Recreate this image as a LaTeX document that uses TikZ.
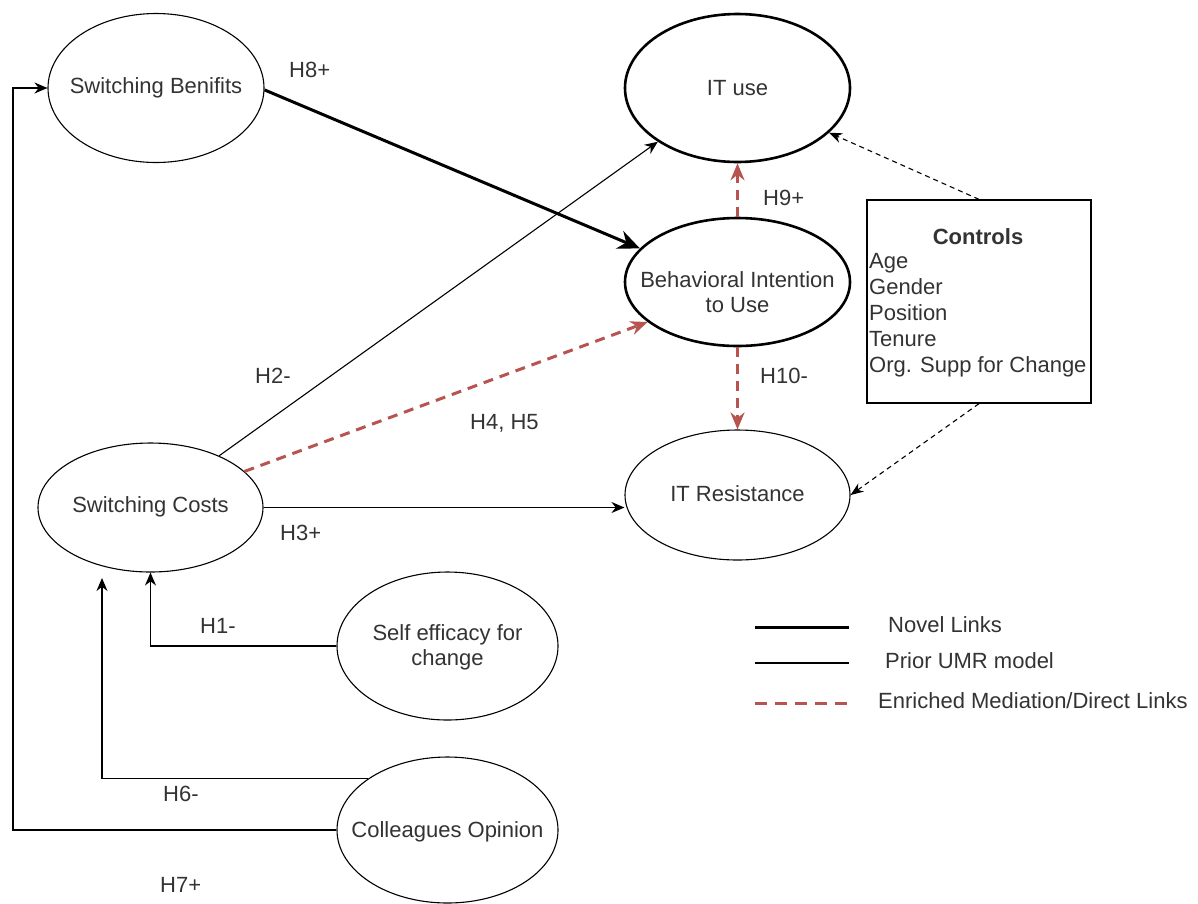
\documentclass[tikz,border=0pt]{standalone}
\usepackage{fontspec}
\setmainfont{Liberation Sans}
\usetikzlibrary{shapes.geometric,arrows.meta}
\definecolor{txt}{RGB}{51,51,51}
\definecolor{redd}{RGB}{184,84,80}
\begin{document}
\begin{tikzpicture}[x=1pt,y=-1pt,
  font=\fontsize{22}{25}\selectfont, text=txt,
  thinE/.style={ellipse, draw=black, line width=1.1pt, inner sep=0pt},
  thickE/.style={ellipse, draw=black, line width=2.6pt, inner sep=0pt},
  lbl/.style={anchor=west, inner sep=0pt, text height=15pt, text depth=4pt},
  prior/.style={line width=1.1pt, -{Stealth[length=13pt,width=11pt]}},
  novel/.style={line width=3pt, -{Stealth[length=22pt,width=19pt]}},
  enr/.style={draw=redd, line width=3pt, dash pattern=on 10pt off 7pt, -{Stealth[length=17pt,width=14pt]}},
  ctrl/.style={line width=1.1pt, dash pattern=on 5pt off 4pt, -{Stealth[length=13pt,width=10pt]}},
]
\useasboundingbox (0,0) rectangle (1198,903);
\fill[white] (0,0) rectangle (1198,903);

% ellipses
\node[thinE, minimum width=216pt, minimum height=149pt] (sb) at (156,88) {};
\node[thickE, minimum width=225pt, minimum height=148pt] (itu) at (737.5,88) {};
\node[thickE, minimum width=225pt, minimum height=128pt] (bi) at (737.5,282) {};
\node[thinE, minimum width=225pt, minimum height=130pt] (itr) at (737.5,495) {};
\node[thinE, minimum width=225pt, minimum height=129pt] (sc) at (150.5,507.5) {};
\node[thinE, minimum width=221pt, minimum height=148pt] (se) at (447.5,646) {};
\node[thinE, minimum width=221pt, minimum height=146pt] (co) at (447.5,830) {};
\node[draw=black, line width=1.3pt, minimum width=224pt, minimum height=203pt, inner sep=0pt] (ctl) at (979,301.5) {};

% texts
\node (sbt) at (156,88) {Switching Benifits};
\node (itut) at (737.5,88) {IT use};
\node[align=center] (bit) at (737.5,292) {Behavioral Intention\\to Use};
\node (itrt) at (737.5,494) {IT Resistance};
\node (sct) at (150.5,507) {Switching Costs};
\node[align=center] (set) at (447.5,647) {Self efficacy for\\change};
\node (cot) at (447.5,832) {Colleagues Opinion};

\node[font=\fontsize{22}{25}\selectfont\bfseries] (ctlh) at (978,237) {Controls};
\node[lbl] (c1) at (869,263) {Age};
\node[lbl] (c2) at (869,289) {Gender};
\node[lbl] (c3) at (869,315) {Position};
\node[lbl] (c4) at (869,341) {Tenure};
\node[lbl] (c5) at (869,367) {Org. Supp for Change};

% connectors
\draw[novel] (sb.-1) -- (bi.161);
\draw[prior] (sc.37) -- (itu.214);
\draw[enr] (sc.21) -- (bi.204);
\draw[prior] (sc.east) -- (sc.east -| itr.west);
\draw[enr] (bi.north) -- (itu.south);
\draw[enr] (bi.south) -- (itr.north);
\draw[ctrl] (ctl.north) -- (itu.-26);
\draw[ctrl] (ctl.south) -- (itr.east);
\draw[prior] (se.west) -| (sc.south);
\coordinate (h6top) at (102,578);
\draw[prior] (co.147.6) -| (h6top);
\coordinate (h7c) at (13,88);
\draw[prior] (co.west) -| (h7c) -- (sb.west);

% hypothesis labels
\node[lbl] (h8) at (289,72) {H8+};
\node[lbl] (h9) at (763,200) {H9+};
\node[lbl] (h2) at (255,378) {H2-};
\node[lbl] (h45) at (470,424) {H4, H5};
\node[lbl] (h10) at (760,378) {H10-};
\node[lbl] (h3) at (280,535) {H3+};
\node[lbl] (h1) at (200,628) {H1-};
\node[lbl] (h6) at (163,796) {H6-};
\node[lbl] (h7) at (160,887) {H7+};

% legend
\coordinate (l1a) at (755,627); \coordinate (l1b) at (849,627);
\coordinate (l2a) at (755,663); \coordinate (l2b) at (849,663);
\coordinate (l3a) at (755,703); \coordinate (l3b) at (849,703);
\draw[line width=3pt] (l1a) -- (l1b);
\draw[line width=1.1pt] (l2a) -- (l2b);
\draw[draw=redd, line width=3pt, dash pattern=on 12pt off 8pt] (l3a) -- (l3b);
\node[lbl] (l1t) at (888,627) {Novel Links};
\node[lbl] (l2t) at (885,663) {Prior UMR model};
\node[lbl] (l3t) at (878,703) {Enriched Mediation/Direct Links};
\end{tikzpicture}
\end{document}
